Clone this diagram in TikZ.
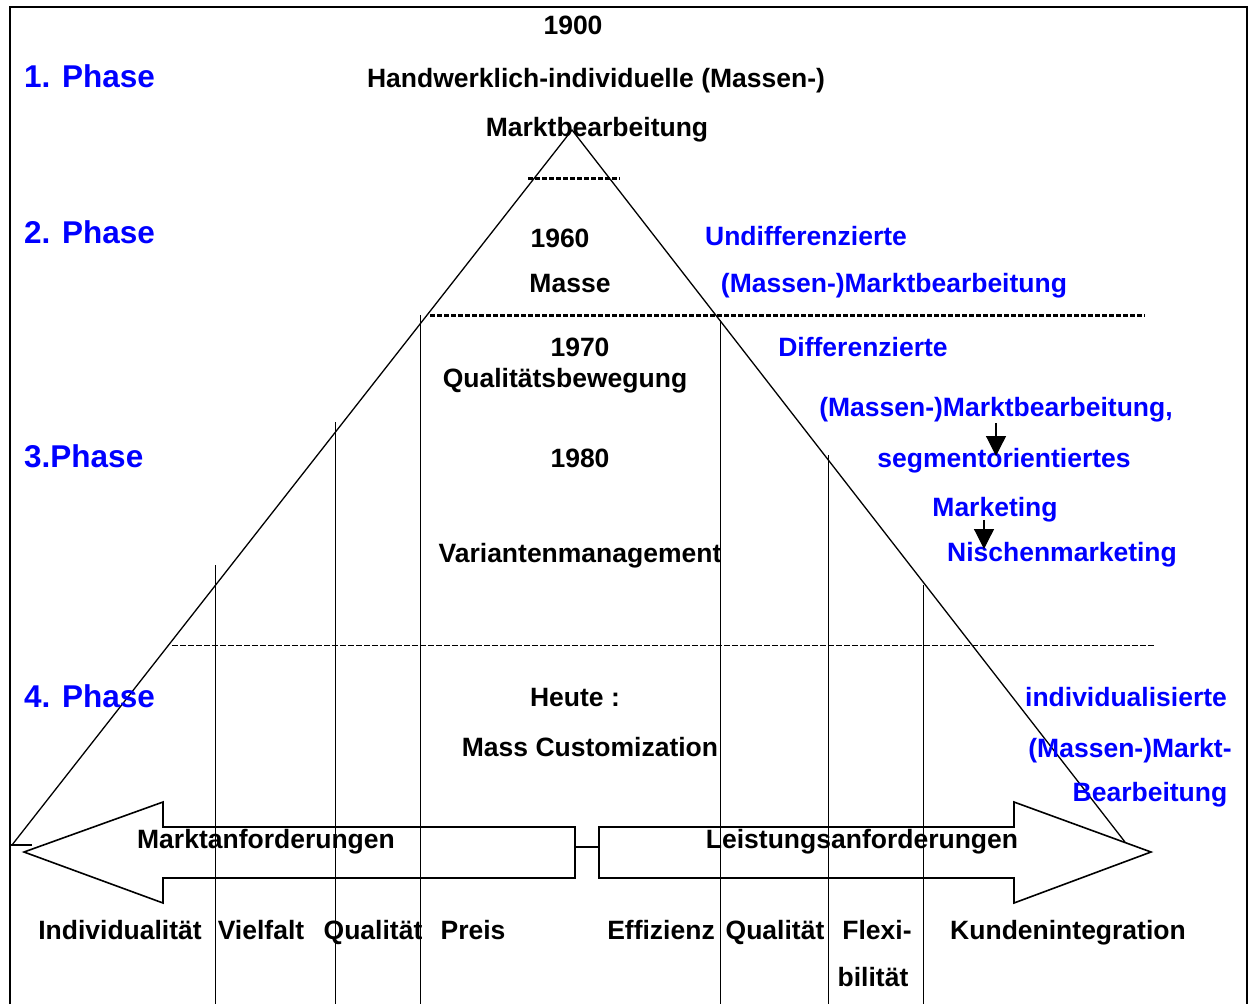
\documentclass[tikz,border=0pt]{standalone}
\usepackage{fontspec}
\setmainfont{Liberation Sans}
\usetikzlibrary{arrows.meta}
\begin{document}
\begin{tikzpicture}[x=1pt,y=-1pt,
    txt/.style={inner sep=0pt,text height=0.72em,text depth=0.2em,yshift=-7pt,
        font=\bfseries\fontsize{26.5}{30}\selectfont},
    bluetxt/.style={txt,text=blue},
    phase/.style={inner sep=0pt,anchor=west,text=blue,text height=0.72em,text depth=0.2em,
        yshift=-8pt,font=\bfseries\fontsize{31.5}{34}\selectfont},
    stem/.style={line width=1pt},
    bigarrow/.style={line width=1.6pt,line join=miter}]
    \useasboundingbox (0,0) rectangle (1249,1004);
    % frame
    \draw [line width=2pt] (10,1004) -- (10,7) -- (1247,7) -- (1247,1004);
    % triangle
    \coordinate (top) at (572,130);
    \coordinate (baseL) at (12,845);
    \coordinate (baseR) at (1125,842);
    \draw [line width=1.3pt] (baseL) -- (top) -- (baseR);
    \draw [line width=1.3pt] (10,845) -- (32,845);
    % phase separators
    \draw [line width=3pt,dash pattern=on 5pt off 2pt] (528,178) -- (620,178);
    \draw [line width=3pt,dash pattern=on 5pt off 2pt] (430,315) -- (1145,315);
    \draw [line width=1pt,dash pattern=on 6pt off 2pt] (172,645) -- (1155,645);
    % vertical lines
    \draw [stem] (215,565) -- (215,1004);
    \draw [stem] (335,422) -- (335,1004);
    \draw [stem] (420,315) -- (420,1004);
    \draw [stem] (720,320) -- (720,1004);
    \draw [stem] (828,455) -- (828,1004);
    \draw [stem] (923,585) -- (923,1004);
    % double arrow
    \draw [bigarrow] (575,827) -- (163,827) -- (163,802) -- (24,852) -- (163,903)
        -- (163,878) -- (575,878) -- cycle;
    \draw [bigarrow] (599,827) -- (1014,827) -- (1014,802) -- (1151,852) -- (1014,903)
        -- (1014,878) -- (599,878) -- cycle;
    \draw [line width=1.2pt] (575,847) -- (599,847);
    \node [txt] (mkt) at (266,839) {Marktanforderungen};
    \node [txt] (lst) at (862,839) {Leistungsanforderungen};
    % phases
    \node [phase] (ph1) at (24,77) {1. Phase};
    \node [phase] (ph2) at (24,233) {2. Phase};
    \node [phase] (ph3) at (24,457) {3.Phase};
    \node [phase] (ph4) at (24,697) {4. Phase};
    % middle texts
    \node [txt] (y1900) at (573,25) {1900};
    \node [txt] (hand) at (596,78) {Handwerklich-individuelle (Massen-)};
    \node [txt] (mb) at (597,127) {Marktbearbeitung};
    \node [txt] (y1960) at (560,238) {1960};
    \node [txt] (masse) at (570,283) {Masse};
    \node [txt] (y1970) at (580,347) {1970};
    \node [txt] (qual) at (565,378) {Qualitätsbewegung};
    \node [txt] (y1980) at (580,458) {1980};
    \node [txt] (var) at (580,553) {Variantenmanagement};
    \node [txt] (heute) at (575,697) {Heute :};
    \node [txt] (mc) at (590,747) {Mass Customization};
    % right texts
    \node [bluetxt] (undiff) at (806,236) {Undifferenzierte};
    \node [bluetxt] (massmb) at (894,283) {(Massen-)Marktbearbeitung};
    \node [bluetxt] (diff) at (863,347) {Differenzierte};
    \node [bluetxt] (massmb2) at (996,407) {(Massen-)Marktbearbeitung,};
    \node [bluetxt] (segm) at (1004,458) {segmentorientiertes};
    \node [bluetxt] (mktg) at (995,507) {Marketing};
    \node [bluetxt] (nische) at (1062,552) {Nischenmarketing};
    \node [bluetxt] (indiv) at (1126,697) {individualisierte};
    \node [bluetxt] (massm) at (1130,748) {(Massen-)Markt-};
    \node [bluetxt] (bearb) at (1150,792) {Bearbeitung};
    % small arrows
    \coordinate (a1) at (996,423);
    \coordinate (a1e) at (996,456);
    \coordinate (a2) at (984,520);
    \coordinate (a2e) at (984,549);
    \draw [-{Triangle[width=20pt,length=20pt]},line width=1.2pt] (a1) -- (a1e);
    \draw [-{Triangle[width=20pt,length=20pt]},line width=1.2pt] (a2) -- (a2e);
    % bottom labels
    \node [txt] (ind) at (120,930) {Individualität};
    \node [txt] (viel) at (261,930) {Vielfalt};
    \node [txt] (qual1) at (373,930) {Qualität};
    \node [txt] (preis) at (473,930) {Preis};
    \node [txt] (eff) at (661,930) {Effizienz};
    \node [txt] (qual2) at (775,930) {Qualität};
    \node [txt] (flex) at (877,930) {Flexi-};
    \node [txt] (bil) at (873,977) {bilität};
    \node [txt] (kund) at (1068,930) {Kundenintegration};
\end{tikzpicture}
\end{document}
